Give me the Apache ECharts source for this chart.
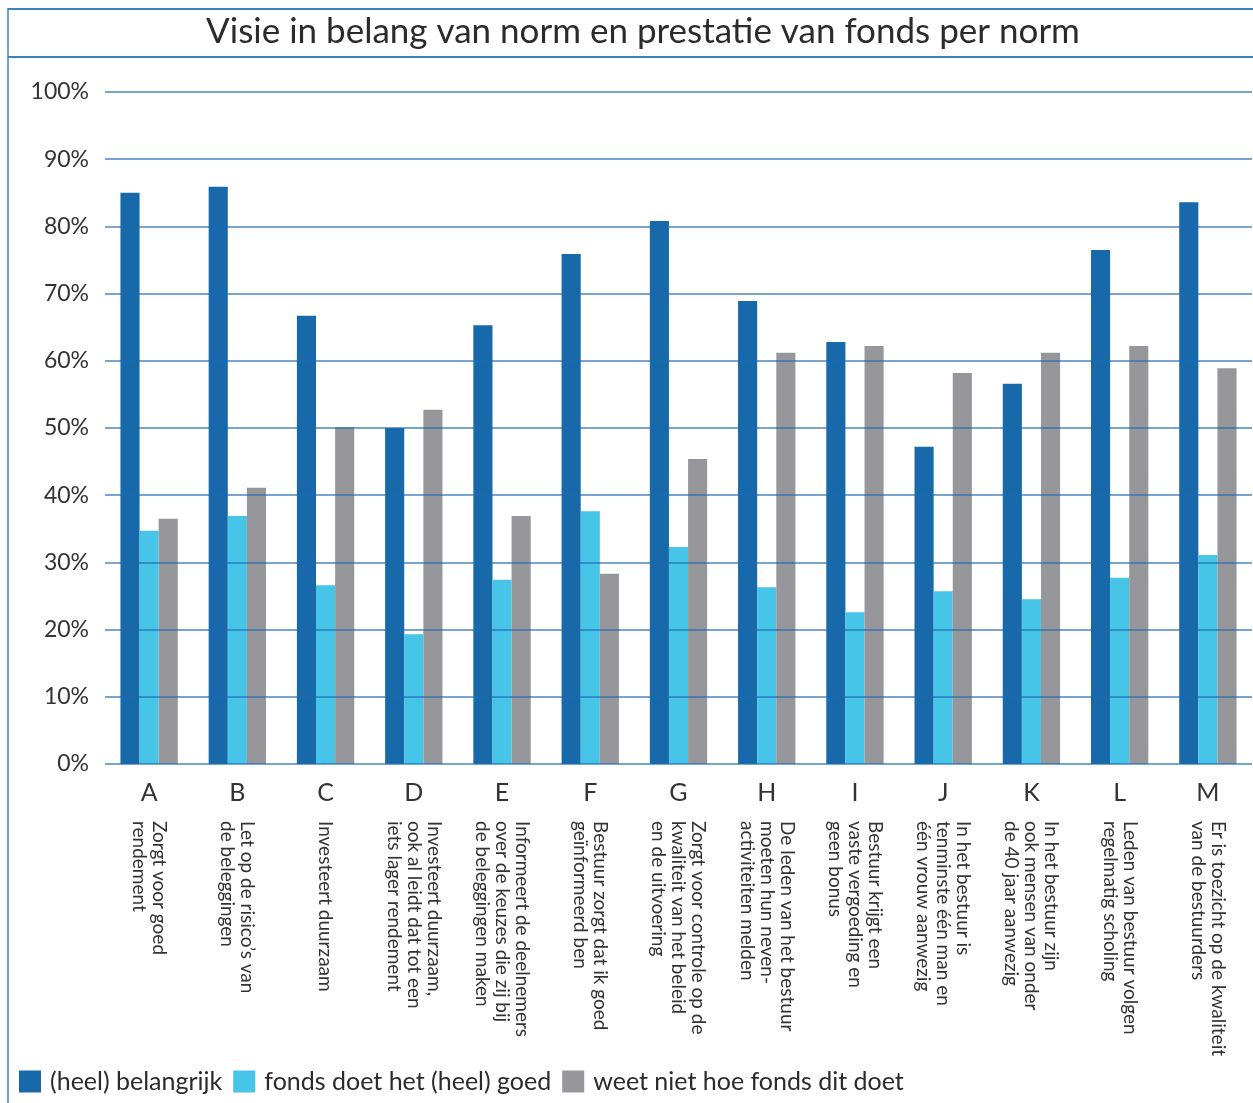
<!DOCTYPE html>
<html>
<head>
<meta charset="utf-8">
<script src="https://cdn.jsdelivr.net/npm/echarts@6/dist/echarts.min.js"></script>
<style>
  html, body { margin: 0; padding: 0; background: #fff; }
  #main { width: 1253px; height: 1103px; }
</style>
</head>
<body>
<div id="main"></div>
<script>
    // categorieen en omschrijvingen
    var letters = ['A', 'B', 'C', 'D', 'E', 'F', 'G', 'H', 'I', 'J', 'K', 'L', 'M'];
    var descriptions = [
        'Zorgt voor goed\nrendement',
        'Let op de risico’s van\nde beleggingen',
        'Investeert duurzaam',
        'Investeert duurzaam,\nook al leidt dat tot een\niets lager rendement',
        'Informeert de deelnemers\nover de keuzes die zij bij\nde beleggingen maken',
        'Bestuur zorgt dat ik goed\ngeïnformeerd ben',
        'Zorgt voor controle op de\nkwaliteit van het beleid\nen de uitvoering',
        'De leden van het bestuur\nmoeten hun neven-\nactiviteiten melden',
        'Bestuur krijgt een\nvaste vergoeding en\ngeen bonus',
        'In het bestuur is\ntenminste één man en\néén vrouw aanwezig',
        'In het bestuur zijn\nook mensen van onder\nde 40 jaar aanwezig',
        'Leden van bestuur volgen\nregelmatig scholing',
        'Er is toezicht op de kwaliteit\nvan de bestuurders'
    ];
    var yTicks = [0, 10, 20, 30, 40, 50, 60, 70, 80, 90, 100];

    // waarden (%)
    var belangrijk = [85.0, 85.9, 66.7, 50.0, 65.3, 75.9, 80.8, 68.9, 62.8, 47.2, 56.6, 76.5, 83.6];
    var doetGoed = [34.7, 36.9, 26.6, 19.3, 27.4, 37.6, 32.3, 26.3, 22.6, 25.7, 24.5, 27.7, 31.1];
    var weetNiet = [36.5, 41.1, 50.1, 52.7, 36.9, 28.3, 45.4, 61.2, 62.2, 58.2, 61.2, 62.2, 58.9];

    var seriesNames = ['(heel) belangrijk', 'fonds doet het (heel) goed', 'weet niet hoe fonds dit doet'];
    var colors = ['#1769aa', '#46c5e9', '#97979b'];

    var font = 'Lato';
    var frameColor = '#3d7fbf';
    var chart = echarts.init(document.getElementById('main'), null, { renderer: 'canvas' });

    var option = {
        animation: false,
        color: colors,
        textStyle: { fontFamily: font },
        title: {
            text: 'Visie in belang van norm en prestatie van fonds per norm',
            left: 638,
            top: 9,
            textAlign: 'center',
            textStyle: { fontFamily: font, fontSize: 35, fontWeight: 'normal', color: '#2b2b2b' }
        },
        graphic: [
            { type: 'line', shape: { x1: 8, y1: 9, x2: 1253, y2: 9 }, style: { stroke: frameColor, lineWidth: 2 } },
            { type: 'line', shape: { x1: 8, y1: 57, x2: 1253, y2: 57 }, style: { stroke: frameColor, lineWidth: 2 } },
            { type: 'line', shape: { x1: 8, y1: 8, x2: 8, y2: 1103 }, style: { stroke: frameColor, lineWidth: 1.5 } }
        ],
        legend: {
            left: 14,
            bottom: 4,
            itemWidth: 22,
            itemHeight: 22,
            itemGap: 11,
            icon: 'rect',
            textStyle: { fontFamily: font, fontSize: 25, color: '#2b2b2b', padding: [0, 0, 0, 4] },
            data: seriesNames
        },
        grid: { left: 105, right: 1, top: 92, bottom: 339 },
        xAxis: [
            {
                type: 'category',
                data: letters,
                axisLine: { show: false },
                axisTick: { show: false },
                axisLabel: { margin: 16, fontSize: 25, color: '#333', fontFamily: font }
            },
            {
                type: 'category',
                data: descriptions,
                position: 'bottom',
                offset: 57,
                axisLine: { show: false },
                axisTick: { show: false },
                axisLabel: {
                    margin: 0,
                    rotate: -90,
                    interval: 0,
                    fontSize: 19,
                    lineHeight: 20,
                    color: '#333',
                    fontFamily: font
                }
            }
        ],
        yAxis: {
            type: 'value',
            min: 0,
            max: 100,
            interval: 10,
            z: 5,
            axisLine: { show: false },
            axisTick: { show: false },
            axisLabel: {
                margin: 16,
                fontSize: 23,
                color: '#333',
                fontFamily: font,
                formatter: function (v) { return yTicks.indexOf(v) >= 0 ? v + '%' : ''; }
            },
            splitLine: { lineStyle: { color: 'rgba(30, 105, 175, 0.8)', width: 1.5 } }
        },
        series: [
            { name: seriesNames[0], type: 'bar', data: belangrijk, barGap: '0%', barCategoryGap: '35%' },
            { name: seriesNames[1], type: 'bar', data: doetGoed, barGap: '0%', barCategoryGap: '35%' },
            { name: seriesNames[2], type: 'bar', data: weetNiet, barGap: '0%', barCategoryGap: '35%' }
        ]
    };

    chart.setOption(option);
</script>
</body>
</html>
